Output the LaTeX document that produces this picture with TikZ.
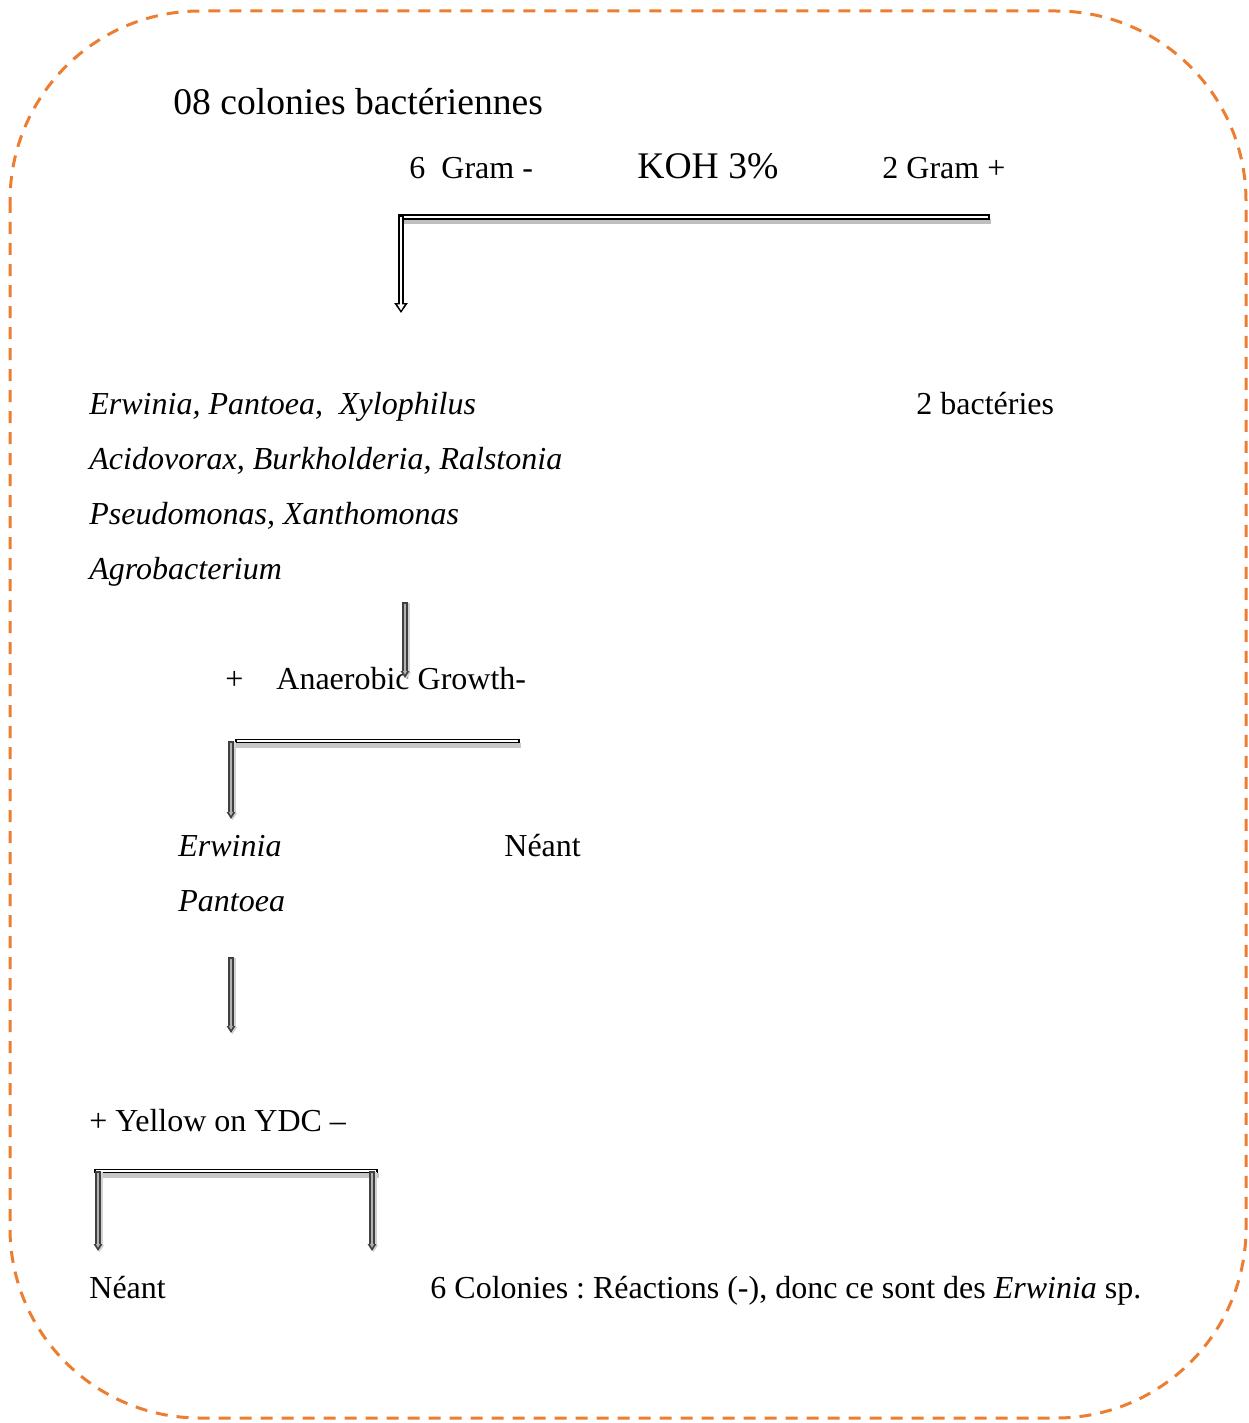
\documentclass[tikz,border=0pt]{standalone}
\usepackage{fontspec}
\setmainfont{Liberation Serif}
\usetikzlibrary{arrows.meta}
\definecolor{frameorange}{HTML}{ED7D31}
\frenchspacing
\begin{document}
\begin{tikzpicture}[x=0.5pt,y=-0.5pt,
  txt/.style={anchor=base west, inner sep=0pt, font=\fontsize{16}{19}\selectfont},
  big/.style={anchor=base west, inner sep=0pt, font=\fontsize{18.8}{23}\selectfont},
  itx/.style={txt, font=\fontsize{16}{19}\selectfont\itshape},
  % outlined horizontal bar with a grey shadow underneath
  hbar/.style={draw=black, line width=2.6pt,
    preaction={draw=gray!50, line width=2.4pt, transform canvas={yshift=-2.2pt,xshift=0.4pt}},
    postaction={draw=white, line width=1.0pt, shorten <=0.9pt, shorten >=0.9pt}},
  % outlined arrow, white inside
  openarrow/.style={draw=black, line width=2.6pt, -{Triangle[length=5pt,width=6.5pt]},
    postaction={draw=white, line width=1.0pt, shorten <=0.9pt, shorten >=1.3pt,
      -{Triangle[length=3pt,width=3.4pt]}}},
  % outlined arrow, grey inside
  greyarrow/.style={draw=black!75, line width=2.6pt, -{Triangle[length=3.5pt,width=4.2pt]},
    preaction={draw=gray!35, line width=3pt, transform canvas={xshift=0.8pt,yshift=-0.6pt}},
    postaction={draw=gray!60, line width=1.1pt, shorten <=0.9pt, shorten >=1.6pt,
      -{Triangle[length=2pt,width=2pt]}}},
  greybar/.style={draw=black, line width=2.4pt,
    preaction={draw=gray!45, line width=2.4pt, transform canvas={yshift=-2.2pt,xshift=0.4pt}},
    postaction={draw=white, line width=0.9pt, shorten <=0.9pt, shorten >=0.9pt}}
]
\useasboundingbox (0,0) rectangle (1248,1423);

% frame
\draw[frameorange, line width=1.5pt, dash pattern=on 6pt off 4.5pt, rounded corners=95pt]
  (10,11) rectangle (1246,1418);

% texts
\node[big] (title) at (173,115) {08 colonies bactériennes};
\node[txt] (gneg) at (409,179) {6\ \ Gram -};
\node[big] (koh) at (637,179) {KOH 3\%};
\node[txt] (gpos) at (882,179) {2 Gram +};

\node[itx] (l1) at (89,414) {Erwinia, Pantoea,\ \ Xylophilus};
\node[itx] (l2) at (89,469) {Acidovorax, Burkholderia, Ralstonia};
\node[itx] (l3) at (89,524) {Pseudomonas, Xanthomonas};
\node[itx] (l4) at (89,579) {Agrobacterium};
\node[txt] (bact) at (916,414) {2 bactéries};

\node[txt] (plus) at (225,689) {+};
\node[txt] (anaer) at (276,689) {Anaerobic Growth-};

\node[itx] (erw) at (178,856) {Erwinia};
\node[itx] (pant) at (178,911) {Pantoea};
\node[txt] (neant1) at (504,856) {Néant};

\node[txt] (ydc) at (89,1131) {+ Yellow on YDC –};

\node[txt] (neant2) at (89,1298) {Néant};
\node[txt] (concl) at (430,1298) {6 Colonies : Réactions (-), donc ce sont des \textit{Erwinia} sp.};

% KOH split
\coordinate (k1) at (398,217);
\coordinate (k2) at (990,217);
\coordinate (k3) at (401,215);
\coordinate (k4) at (401,313);
\draw[hbar] (k1) -- (k2);
\draw[openarrow] (k3) -- (k4);

% towards anaerobic growth
\coordinate (a1) at (405,602);
\coordinate (a2) at (405,678);
\draw[greyarrow] (a1) -- (a2);

% anaerobic growth split
\coordinate (b1) at (235,741);
\coordinate (b2) at (520,741);
\coordinate (b3) at (231,741);
\coordinate (b4) at (231,819);
\draw[greybar] (b1) -- (b2);
\draw[greyarrow] (b3) -- (b4);

% towards YDC
\coordinate (c1) at (231,957);
\coordinate (c2) at (231,1033);
\draw[greyarrow] (c1) -- (c2);

% YDC split
\coordinate (d1) at (94,1171);
\coordinate (d2) at (378,1171);
\coordinate (d3) at (98,1171);
\coordinate (d4) at (98,1251);
\coordinate (d5) at (372,1171);
\coordinate (d6) at (372,1251);
\draw[greybar] (d1) -- (d2);
\draw[greyarrow] (d3) -- (d4);
\draw[greyarrow] (d5) -- (d6);
\end{tikzpicture}
\end{document}
